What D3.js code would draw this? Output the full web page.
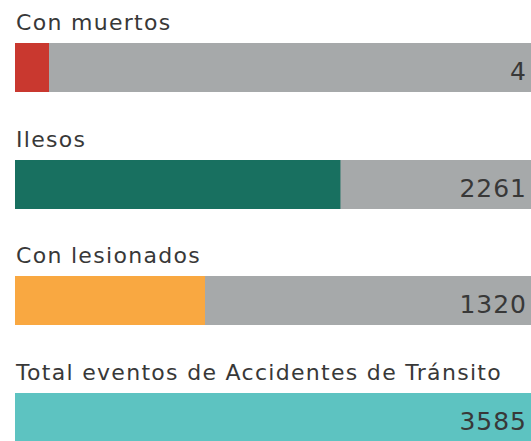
<!DOCTYPE html>
<html>
<head>
<meta charset="utf-8">
<script src="https://cdn.jsdelivr.net/npm/d3@7"></script>
<style>
  body { margin: 0; background: #fff; }
  text { font-family: "DejaVu Sans", sans-serif; fill: #383838; }
</style>
</head>
<body>
<svg id="chart" width="531" height="441"></svg>
<script>
// data
var categories = ["Con muertos", "Ilesos", "Con lesionados", "Total eventos de Accidentes de Tránsito"];
var values = [4, 2261, 1320, 3585];
var total = 3585;
var colors = ["#c9382f", "#187060", "#f9a841", "#5dc3c1"];

var svg = d3.select("#chart")
  , width = 531
  , left = 15
  , barH = 49
  , rowTops = [43, 160, 276, 393]
  , minW = 34;

var x = d3.scaleLinear().domain([0, total]).range([left, width]);

var row = svg.selectAll("g.row")
  .data(values)
  .enter()
  .append("g")
  .attr("class", "row")
  .attr("transform", function (d, i) { return "translate(0," + rowTops[i] + ")"; });

// gray background track
row.append("rect")
  .attr("x", x(0))
  .attr("y", 0)
  .attr("width", x(total) - x(0))
  .attr("height", barH)
  .attr("fill", "#a6a9aa");

// coloured part, tiny values get a min width so they stay visible
row.append("rect")
  .attr("x", x(0))
  .attr("y", 0)
  .attr("width", function (d) { return Math.max(x(d) - x(0), minW); })
  .attr("height", barH)
  .attr("fill", function (d, i) { return colors[i]; });

row.append("text")
  .attr("x", left + 1)
  .attr("y", -13.5)
  .attr("font-size", "22px")
  .attr("letter-spacing", "1.3px")
  .text(function (d, i) { return categories[i]; });

row.append("text")
  .attr("x", 527)
  .attr("y", 37)
  .attr("text-anchor", "end")
  .attr("font-size", "25px")
  .attr("letter-spacing", "1px")
  .text(function (d) { return d; });
</script>
</body>
</html>
